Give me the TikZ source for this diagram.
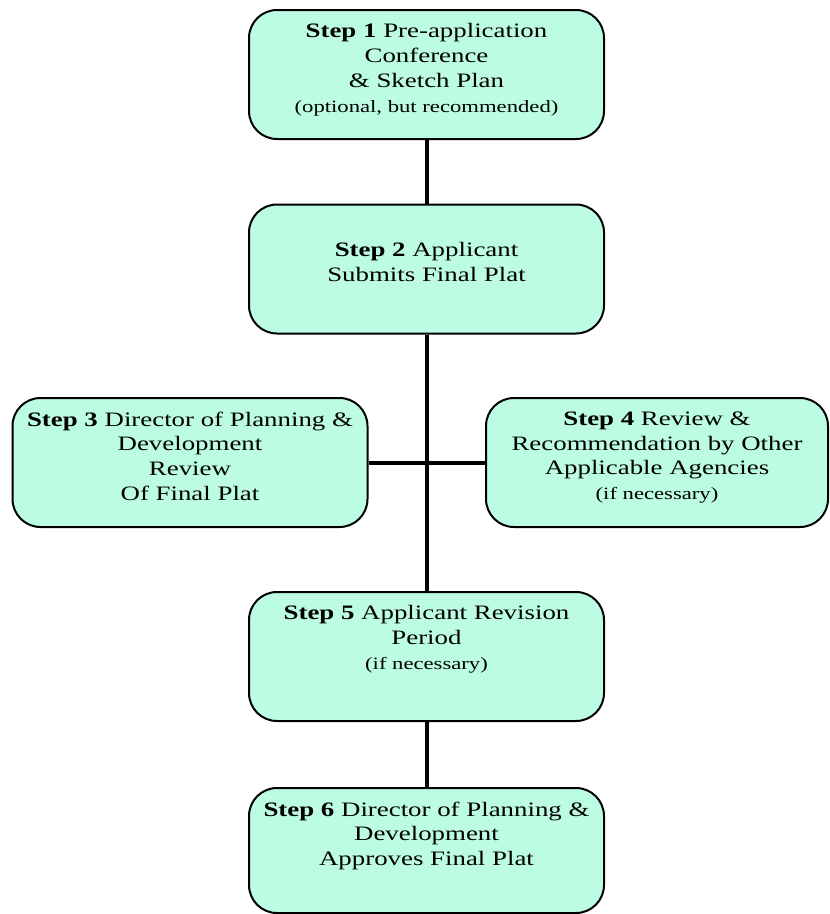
\documentclass[tikz,border=0pt]{standalone}
\usepackage{fontspec}
\setmainfont[FakeStretch=1.31]{Liberation Serif}
\usetikzlibrary{positioning}
\definecolor{stepfill}{RGB}{188,252,226}
\tikzset{
	stepbox/.style = {draw, line width=2pt, fill=stepfill, rounded corners=28pt,
		minimum width=355pt, minimum height=129pt, inner sep=0pt},
	steptext/.style = {align=center, inner sep=0pt,
		font=\fontsize{20.5}{24.8}\selectfont},
	link/.style = {line width=4pt}
}
\newcommand{\smalltxt}[1]{{\fontsize{17.3}{20}\selectfont #1}}

\begin{document}
\begin{tikzpicture}[x=1pt, y=-1pt]
	\useasboundingbox (0,0) rectangle (830,914);
	\node[stepbox] (s1) at (426.5,74.5) {};
	\node[stepbox] (s2) at (426.5,269) {};
	\node[stepbox] (s3) at (190,462.5) {};
	\node[stepbox] (s4) [minimum width=342pt] at (657,462.5) {};
	\node[stepbox] (s5) at (426.5,656.5) {};
	\node[stepbox] (s6) [minimum height=125pt] at (426.5,850.5) {};
	\path (s1) edge[link] (s2);
	\path (s2) edge[link] (s5);
	\path (s5) edge[link] (s6);
	\path (s3) edge[link] (s4);
	\node[steptext] (t1) [below = 14.5pt of s1.north]
		{\textbf{Step 1} Pre-application\\ Conference\\ \& Sketch Plan\\ \smalltxt{(optional, but recommended)}};
	\node[steptext] (t2) [below = 39pt of s2.north]
		{\textbf{Step 2} Applicant\\ Submits Final Plat};
	\node[steptext] (t3) [below = 14.5pt of s3.north]
		{\textbf{Step 3} Director of Planning \&\\ Development\\ Review\\ Of Final Plat};
	\node[steptext] (t4) [below = 14.5pt of s4.north]
		{\textbf{Step 4} Review \&\\ Recommendation by Other\\ Applicable Agencies\\ \smalltxt{(if necessary)}};
	\node[steptext] (t5) [below = 14.5pt of s5.north]
		{\textbf{Step 5} Applicant Revision\\ Period\\ \smalltxt{(if necessary)}};
	\node[steptext] (t6) [below = 14.5pt of s6.north]
		{\textbf{Step 6} Director of Planning \&\\ Development\\ Approves Final Plat};
\end{tikzpicture}
\end{document}
